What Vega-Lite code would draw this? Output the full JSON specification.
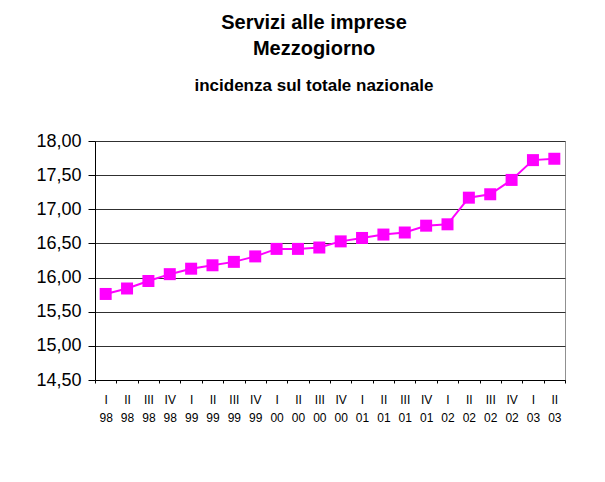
{
  "$schema": "https://vega.github.io/schema/vega-lite/v6.json",
  "autosize": "none",
  "width": 470,
  "height": 239,
  "padding": {"left": 95, "top": 141, "right": 40, "bottom": 102},
  "background": "white",
  "title": {
    "text": ["Servizi alle imprese", "Mezzogiorno"],
    "subtitle": "incidenza sul totale nazionale",
    "anchor": "middle",
    "frame": "group",
    "dx": -16,
    "offset": 38,
    "font": "Liberation Sans",
    "fontSize": 20,
    "fontWeight": "bold",
    "lineHeight": 26,
    "color": "black",
    "subtitleFont": "Liberation Sans",
    "subtitleFontSize": 17,
    "subtitleFontWeight": "bold",
    "subtitleColor": "black",
    "subtitlePadding": 19
  },
  "data": {
    "values": [
      {"q": "I 98", "v": 15.76},
      {"q": "II 98", "v": 15.84},
      {"q": "III 98", "v": 15.95},
      {"q": "IV 98", "v": 16.05},
      {"q": "I 99", "v": 16.13},
      {"q": "II 99", "v": 16.18},
      {"q": "III 99", "v": 16.23},
      {"q": "IV 99", "v": 16.31},
      {"q": "I 00", "v": 16.42},
      {"q": "II 00", "v": 16.42},
      {"q": "III 00", "v": 16.44},
      {"q": "IV 00", "v": 16.53},
      {"q": "I 01", "v": 16.58},
      {"q": "II 01", "v": 16.63},
      {"q": "III 01", "v": 16.66},
      {"q": "IV 01", "v": 16.76},
      {"q": "I 02", "v": 16.78},
      {"q": "II 02", "v": 17.17},
      {"q": "III 02", "v": 17.22},
      {"q": "IV 02", "v": 17.43},
      {"q": "I 03", "v": 17.72},
      {"q": "II 03", "v": 17.74}
    ]
  },
  "encoding": {
    "x": {
      "field": "q",
      "type": "nominal",
      "sort": null,
      "bandPosition": 0.5,
      "scale": {"type": "band", "paddingInner": 0, "paddingOuter": 0},
      "axis": {
        "title": null,
        "labelAngle": 0,
        "labelExpr": "split(datum.label, ' ')",
        "labelFont": "Liberation Sans",
        "labelFontSize": 12,
        "labelLineHeight": 18,
        "labelColor": "black",
        "labelPadding": 11,
        "labelBaseline": "top",
        "tickBand": "extent",
        "tickSize": 3,
        "tickColor": "black",
        "domainColor": "black",
        "grid": false
      }
    },
    "y": {
      "field": "v",
      "type": "quantitative",
      "scale": {"domain": [14.5, 18], "nice": false, "zero": false},
      "axis": {
        "title": null,
        "values": [14.5, 15, 15.5, 16, 16.5, 17, 17.5, 18],
        "format": ".2f",
        "labelFont": "Liberation Sans",
        "labelFontSize": 18,
        "labelColor": "black",
        "labelPadding": 7,
        "tickSize": 7,
        "tickColor": "black",
        "domainColor": "black",
        "grid": true,
        "gridColor": "#303030",
        "gridOpacity": 1
      }
    }
  },
  "layer": [
    {"mark": {"type": "line", "color": "#FF00FF", "strokeWidth": 2}},
    {"mark": {"type": "square", "color": "#FF00FF", "opacity": 1, "filled": true, "size": 144}}
  ],
  "config": {
    "locale": {
      "number": {"decimal": ",", "thousands": ".", "grouping": [3], "currency": ["", " €"]}
    },
    "view": {"stroke": "#909090", "strokeWidth": 1}
  }
}
